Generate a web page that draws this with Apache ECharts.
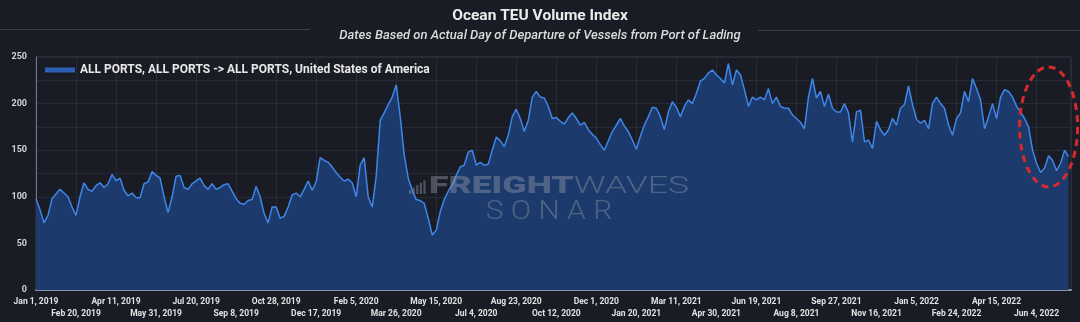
<!DOCTYPE html>
<html lang="en">
<head>
  <meta charset="UTF-8">
  <title>Ocean TEU Volume Index</title>
  <style>
    html, body { margin: 0; padding: 0; background: #191c24; }
    #chart { width: 1080px; height: 322px; }
  </style>
</head>
<body>
  <div id="chart"></div>
  <script src="https://cdn.jsdelivr.net/npm/echarts@6.0.0/dist/echarts.min.js"></script>
  <script>
    // Index values every 5 days, starting Jan 1, 2019
    const stepDays = 5;
    const teuIndex = [
      98, 86, 72, 80, 98, 103, 108, 104, 100, 89,
      80, 100, 115, 108, 106, 112, 115, 110, 114, 124,
      117, 120, 107, 101, 104, 99, 99, 114, 116, 127,
      123, 120, 100, 83, 100, 122, 123, 110, 108, 114,
      117, 120, 112, 108, 114, 108, 110, 113, 114, 106,
      98, 93, 92, 96, 97, 111, 100, 82, 72, 89,
      89, 77, 79, 89, 102,
      104, 100, 108, 117, 107, 116, 142, 139, 137, 132,
      126, 121, 117, 119, 115, 100, 134, 142, 100, 89,
      122, 182, 190, 199, 207, 220, 186, 145, 120, 107,
      97, 96, 93, 77, 59, 64, 84, 97, 106, 113,
      123, 132, 134, 148, 150, 134, 137, 134, 135, 150,
      164, 160, 154, 166, 186, 194, 184, 170, 182, 207,
      213, 207, 206, 197, 184,
      185, 181, 178, 185, 190, 184, 177, 180, 172, 167,
      163, 156, 150, 160, 170, 177, 184, 176, 170, 161,
      151, 165, 177, 186, 196, 195, 186, 172, 191, 202,
      196, 186, 197, 204, 200, 211, 224, 227, 233, 236,
      231, 227, 222, 243, 220, 236, 231, 215, 197, 207,
      204, 207, 204, 216, 200, 207, 197, 195, 195, 188,
      184, 180, 173, 207, 227,
      206, 213, 197, 210, 195, 191, 191, 200, 190, 159,
      191, 193, 159, 161, 152, 181, 172, 166, 172, 184,
      177, 195, 199, 219, 199, 183, 179, 182, 173, 200,
      207, 200, 195, 177, 166, 184, 190, 213, 202, 227,
      216, 204, 173, 186, 200, 184, 207, 215, 213, 207,
      197, 191, 184, 175, 150, 136, 126, 131, 144, 139,
      128, 136, 150, 143
    ];

    // x ticks every 50 days
    const tickStep = 50;
    const tickLabels = [
      'Jan 1, 2019', 'Feb 20, 2019', 'Apr 11, 2019', 'May 31, 2019', 'Jul 20, 2019',
      'Sep 8, 2019', 'Oct 28, 2019', 'Dec 17, 2019', 'Feb 5, 2020', 'Mar 26, 2020',
      'May 15, 2020', 'Jul 4, 2020', 'Aug 23, 2020', 'Oct 12, 2020', 'Dec 1, 2020',
      'Jan 20, 2021', 'Mar 11, 2021', 'Apr 30, 2021', 'Jun 19, 2021', 'Aug 8, 2021',
      'Sep 27, 2021', 'Nov 16, 2021', 'Jan 5, 2022', 'Feb 24, 2022', 'Apr 15, 2022',
      'Jun 4, 2022'
    ];

    const seriesName = 'ALL PORTS, ALL PORTS -> ALL PORTS, United States of America';

    const chart = echarts.init(document.getElementById('chart'), null, { renderer: 'canvas' });

    const points = teuIndex.map((v, i) => [i * stepDays, v]);
    const wmColor = 'rgba(150,158,172,0.42)';

    // labels alternate between two rows: even ticks on the first, odd on the second
    const rowLabel = row => v => {
      if (v % tickStep) return '';
      const i = v / tickStep;
      return i % 2 === row && tickLabels[i] ? tickLabels[i] : '';
    };
    const labelStyle = {
      color: '#e2e2e2',
      fontSize: 8.5,
      fontWeight: 'bold',
      fontFamily: 'Roboto'
    };

    chart.setOption({
      backgroundColor: '#191c24',
      animation: false,
      title: {
        text: 'Ocean TEU Volume Index',
        subtext: 'Dates Based on Actual Day of Departure of Vessels from Port of Lading',
        left: 'center',
        top: 3,
        itemGap: 5,
        textStyle: { color: '#ececec', fontSize: 15.5, fontWeight: 'bold', fontFamily: 'Roboto' },
        subtextStyle: { color: '#dcdcdc', fontSize: 13, fontStyle: 'italic', fontWeight: 500, fontFamily: 'Roboto' }
      },
      legend: {
        left: 40,
        top: 59,
        icon: 'rect',
        itemWidth: 30,
        itemHeight: 5,
        itemGap: 6,
        textStyle: { color: '#e8e8e8', fontSize: 12, fontWeight: 'bold', fontFamily: 'Roboto' }
      },
      grid: {
        left: 36, right: 9, top: 57, bottom: 32,
        show: true,
        borderColor: '#343a47',
        borderWidth: 1
      },
      xAxis: [
        {
          type: 'value',
          position: 'bottom',
          min: 0,
          max: 1293,
          interval: tickStep,
          axisLine: { show: true, lineStyle: { color: '#8a92a3', width: 2 } },
          axisTick: { show: false },
          splitLine: { show: true, lineStyle: { color: '#262b36' } },
          axisLabel: Object.assign({
            showMinLabel: true,
            showMaxLabel: false,
            margin: 7,
            formatter: rowLabel(0)
          }, labelStyle)
        },
        {
          type: 'value',
          position: 'bottom',
          min: 0,
          max: 1293,
          interval: tickStep,
          axisLine: { show: false },
          axisTick: { show: false },
          splitLine: { show: false },
          axisLabel: Object.assign({
            showMinLabel: false,
            showMaxLabel: false,
            margin: 19,
            formatter: rowLabel(1)
          }, labelStyle)
        }
      ],
      yAxis: {
        type: 'value',
        min: 0,
        max: 250,
        interval: 25,
        axisLine: { show: true, lineStyle: { color: '#6e7585', width: 1 } },
        axisTick: { show: false },
        splitLine: { show: true, lineStyle: { color: '#262b36' } },
        axisLabel: {
          color: '#d4d4d4',
          fontSize: 9,
          fontWeight: 'bold',
          fontFamily: 'Roboto',
          margin: 9,
          formatter: v => (v % 50 === 0 ? String(v) : '')
        }
      },
      series: [
        {
          name: seriesName,
          type: 'line',
          xAxisIndex: 0,
          data: points,
          showSymbol: false,
          smooth: false,
          itemStyle: { color: '#2e5fb2' },
          lineStyle: { color: '#3f86ea', width: 1.5 },
          areaStyle: { color: '#1c3a6b', opacity: 1 }
        }
      ]
    });

    // annotation ellipse around the recent drop
    const c = chart.convertToPixel({ gridIndex: 0 }, [1265, 175]);

    chart.setOption({
      graphic: [
        { type: 'line', z: 100, shape: { x1: 0, y1: 29.5, x2: 310, y2: 29.5 }, style: { stroke: '#3a3f4b', lineWidth: 1 } },
        { type: 'line', z: 100, shape: { x1: 758, y1: 30.5, x2: 1080, y2: 30.5 }, style: { stroke: '#3a3f4b', lineWidth: 1 } },
        // watermark
        {
          type: 'group', x: 409, y: 180, silent: true,
          children: [0, 1, 2, 3, 4].map(k => ({
            type: 'rect', z: 100,
            shape: { x: k * 3.6, y: 14 - (4 + k * 2.4), width: 2.2, height: 4 + k * 2.4 },
            style: { fill: wmColor }
          }))
        },
        {
          type: 'text', z: 100, x: 559, y: 187, scaleX: 1.55, silent: true,
          style: {
            text: '{b|FREIGHT}{l|WAVES}',
            align: 'center', verticalAlign: 'middle',
            rich: {
              b: { fontSize: 23, fontWeight: 900, fontFamily: 'Roboto', fill: wmColor },
              l: { fontSize: 23, fontWeight: 300, fontFamily: 'Roboto', fill: wmColor }
            }
          }
        },
        {
          type: 'text', z: 100, x: 549, y: 213, scaleX: 1.2, silent: true,
          style: {
            text: 'S O N A R',
            align: 'center', verticalAlign: 'middle',
            fontSize: 25, fontWeight: 300, fontFamily: 'Roboto',
            fill: wmColor
          }
        },
        {
          type: 'ellipse', z: 100, silent: true,
          shape: { cx: c[0], cy: c[1], rx: 29, ry: 60 },
          style: { fill: null, stroke: '#d42b2b', lineWidth: 3, lineDash: [7, 5] }
        }
      ]
    });
  </script>
</body>
</html>
